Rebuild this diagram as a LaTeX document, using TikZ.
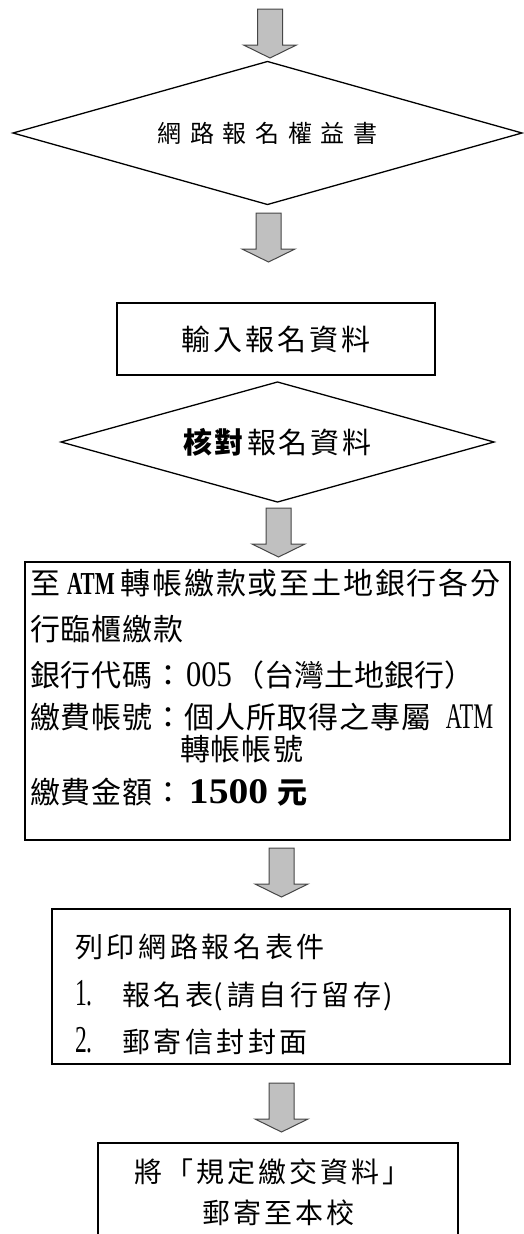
\documentclass[tikz,border=0pt]{standalone}
\usepackage{fontspec}
\usepackage{graphicx}
\setmainfont{Noto Sans CJK TC}
\newfontfamily\latinserif{Liberation Serif}
\usetikzlibrary{shapes.geometric}
\definecolor{arrowfill}{RGB}{192,192,192}
\definecolor{arrowline}{RGB}{70,70,70}
\makeatletter
\def\trk@end{TRKEND}
\newcommand\trk[2]{\def\trk@s{#1}\trk@i#2\trk@end}
\def\trk@i#1{\ifx#1\trk@end\unskip\else#1\hskip\trk@s pt\relax\expandafter\trk@i\fi}
\makeatother
\newcommand\nar[3]{\scalebox{#1}[1]{\latinserif\fontsize{#2}{#2}\selectfont #3}}
\newcommand\fs[1]{\fontsize{#1}{#1}\selectfont}
\tikzset{
  boxshape/.style={draw=black, line width=1.3pt, rectangle, inner sep=0pt, outer sep=0pt},
  diashape/.style={draw=black, line width=1.3pt, diamond, inner sep=0pt, outer sep=0pt},
  txt/.style={inner sep=0pt, outer sep=0pt, anchor=base west},
  ctxt/.style={inner sep=0pt, outer sep=0pt, anchor=base},
  blockarrow/.pic={\draw[draw=arrowline, fill=arrowfill, line width=1pt, line join=miter]
    (-12.5,0) -- (12.5,0) -- (12.5,36) -- (26.5,36) -- (0,49) -- (-26.5,36) -- (-12.5,36) -- cycle;}
}
\begin{document}
\begin{tikzpicture}[x=1pt,y=-1pt]
\useasboundingbox (0,0) rectangle (524,1234);
% arrows
\coordinate (a1) at (270,9);
\coordinate (a2) at (268.5,213);
\coordinate (a3) at (278.5,508);
\coordinate (a4) at (281.5,848);
\coordinate (a5) at (281.5,1083);
\pic at (a1) {blockarrow};
\pic at (a2) {blockarrow};
\pic at (a3) {blockarrow};
\pic at (a4) {blockarrow};
\pic at (a5) {blockarrow};
% diamond 1
\node[diashape, aspect=3.56, minimum width=509pt, minimum height=143pt] (d1) at (267.5,133)
  {\fs{24}\trk{8.7}{網路報名權益書}};
% box 2
\node[boxshape, minimum width=318pt, minimum height=72pt] (b2) at (276,339)
  {\fs{29}\trk{3}{輸入報名資料}};
% diamond 2
\node[diashape, aspect=3.6, minimum width=433pt, minimum height=120pt] (d2) at (277.5,442)
  {\fs{29}\textbf{\trk{3}{核對}}\hspace{3pt}\trk{3}{報名資料}};
% big box
\node[boxshape, minimum width=485pt, minimum height=278pt] (b3) at (267.5,701) {};
\node[txt] (l1) at (30,594.4) {\fs{30}\trk{1}{至}\hspace{7pt}\nar{0.66}{32}{\bfseries ATM}\hspace{6pt}\trk{1.8}{轉帳繳款或至土地銀行各分}};
\node[txt] (l2) at (30,640.4) {\fs{30}\trk{1}{行臨櫃繳款}};
\node[txt] (l3) at (30,686.4) {\fs{30}\trk{1}{銀行代碼：}\hspace{2pt}\nar{0.85}{36}{005}\hspace{3pt}\trk{0}{（台灣土地銀行）}};
\node[txt] (l4) at (30,728.4) {\fs{30}\trk{1}{繳費帳號：個人所取得之專屬}\hspace{14pt}\nar{0.62}{36}{ATM}};
\node[txt] (l5) at (180,760.4) {\fs{30}\trk{1}{轉帳帳號}};
\node[txt] (l6) at (30,803.4) {\fs{30}\trk{1}{繳費金額：}\hspace{5pt}\nar{1.1}{36}{\bfseries 1500}\hspace{9pt}\textbf{元}};
% box 5
\node[boxshape, minimum width=458pt, minimum height=155pt] (b5) at (281,986.5) {};
\node[txt] (m1) at (75,957.6) {\fs{28}\trk{3.7}{列印網路報名表件}};
\node[txt] (m2) at (75,1005.6) {\fs{28}\makebox[47pt][l]{\nar{0.62}{38}{1.}}\trk{3.5}{報名表}\hspace{1pt}(\hspace{4pt}\trk{3.5}{請自行留存}\hspace{2pt})};
\node[txt] (m3) at (75,1052.6) {\fs{28}\makebox[47pt][l]{\nar{0.62}{38}{2.}}\trk{3.5}{郵寄信封封面}};
% box 6
\node[boxshape, minimum width=360pt, minimum height=107pt] (b6) at (278,1196.5) {};
\node[ctxt] (n1) at (272.5,1182.6) {\fs{28}\trk{3}{將「規定繳交資料」}};
\node[ctxt] (n2) at (278.5,1223.6) {\fs{28}\trk{3}{郵寄至本校}};
\end{tikzpicture}
\end{document}
